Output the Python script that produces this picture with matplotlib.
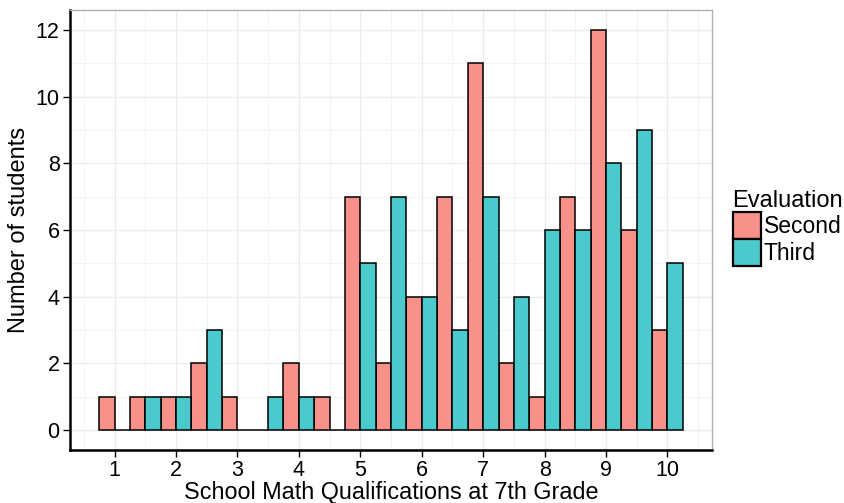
import numpy as np
import matplotlib
matplotlib.use("Agg")
import matplotlib.pyplot as plt
from matplotlib.patches import Patch
from matplotlib.ticker import MultipleLocator

plt.rcParams['font.family'] = ['Liberation Sans', 'DejaVu Sans']

# Qualification values (half-point steps) and student counts per evaluation
qualifications = [1, 1.5, 2, 2.5, 3, 3.5, 4, 4.5, 5, 5.5, 6, 6.5, 7, 7.5, 8, 8.5, 9, 9.5, 10]
second = [1, 1, 1, 2, 1, 0, 2, 1, 7, 2, 4, 7, 11, 2, 1, 7, 12, 6, 3]
third = [0, 1, 1, 3, 0, 1, 1, 0, 5, 7, 4, 3, 7, 4, 6, 6, 8, 9, 5]
series_names = ["Second", "Third"]
x_ticks = [1, 2, 3, 4, 5, 6, 7, 8, 9, 10]
y_ticks = [0, 2, 4, 6, 8, 10, 12]

colors = ["#F8918A", "#4CC9CD"]
bar_w = 0.25

W, H = 844, 503
fig = plt.figure(figsize=(W / 100, H / 100), dpi=100)
ax = fig.add_axes([70 / W, 53 / H, 642 / W, 440 / H])

x = np.array(qualifications)
for offset, vals, col, name in [(-bar_w / 2, second, colors[0], series_names[0]),
                                (bar_w / 2, third, colors[1], series_names[1])]:
    ax.bar(x + offset, vals, width=bar_w, color=col, edgecolor="black",
           linewidth=1.1, zorder=3, label=name)

ax.set_xlim(0.275, 10.725)
ax.set_ylim(-0.6, 12.6)
ax.set_xticks(x_ticks)
ax.set_yticks(y_ticks)
ax.xaxis.set_minor_locator(MultipleLocator(0.5))
ax.yaxis.set_minor_locator(MultipleLocator(1))
ax.grid(which="major", color="#EBEBEB", linewidth=0.9, zorder=0)
ax.grid(which="minor", color="#F3F3F3", linewidth=0.6, zorder=0)
ax.tick_params(axis="both", which="major", length=5, width=1.0, color="black",
               labelsize=15.5, labelcolor="black", direction="out", pad=2.5)
ax.tick_params(axis="both", which="minor", length=0)

for side in ["left", "bottom"]:
    ax.spines[side].set_color("black")
    ax.spines[side].set_linewidth(1.8)
for side in ["top", "right"]:
    ax.spines[side].set_color("#B0B0B0")
    ax.spines[side].set_linewidth(1.0)

# Axis titles
fig.text(19 / W, 1 - 230 / H, "Number of students", fontsize=17,
         rotation=90, ha="center", va="center")
fig.text((70 + 321) / W, -1.5 / H, "School Math Qualifications at 7th Grade",
         fontsize=16.8, ha="center", va="bottom")

handles = [Patch(facecolor=colors[i], edgecolor="black", linewidth=1.6, label=series_names[i])
           for i in range(2)]
leg = fig.legend(handles=handles, title="Evaluation", loc="upper left",
                 bbox_to_anchor=(728 / W, 1 - 185 / H), frameon=False,
                 fontsize=16.5, title_fontsize=17, handlelength=1.25, handleheight=1.45,
                 handletextpad=0.12, labelspacing=0.0, borderaxespad=0, borderpad=0.2)
leg._legend_box.align = "left"

fig.savefig("out.png", dpi=100)
